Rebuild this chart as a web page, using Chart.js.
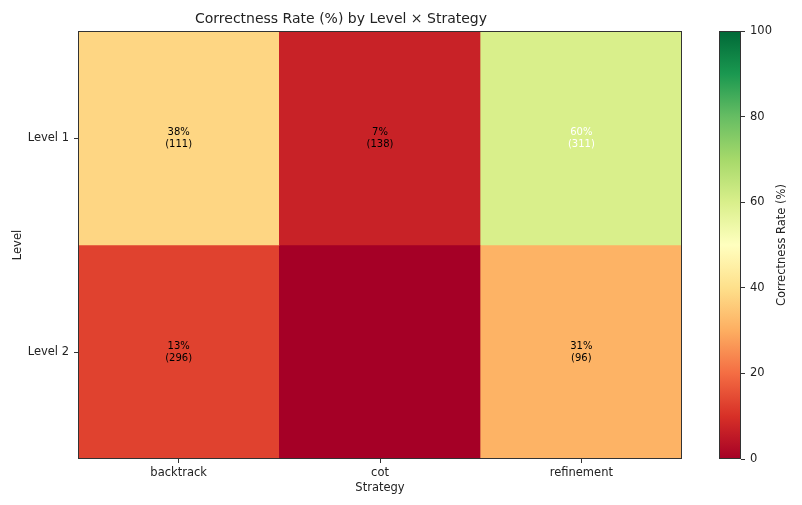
<!DOCTYPE html>
<html>
<head>
<meta charset="utf-8">
<script src="https://cdn.jsdelivr.net/npm/chart.js@4.4.1/dist/chart.umd.min.js"></script>
<style>
  html, body { margin: 0; padding: 0; background: #fff; }
  #wrap { position: relative; width: 802px; height: 505px; }
  #main { position: absolute; left: 0; top: 0; }
  #cbar { position: absolute; left: 700px; top: 0; }
</style>
</head>
<body>
<div id="wrap">
  <canvas id="main" width="700" height="505" style="width:700px;height:505px"></canvas>
  <canvas id="cbar" width="102" height="505" style="width:102px;height:505px"></canvas>
</div>
<script>
// ---- data ----
const strategies = ['backtrack', 'cot', 'refinement'];
const levels = ['Level 1', 'Level 2'];
const rateLevel1 = [38, 7, 60];
const rateLevel2 = [13, 0, 31];
const countLevel1 = [111, 138, 311];
const countLevel2 = [296, 0, 96];
const colorbarTicks = [0, 20, 40, 60, 80, 100];

const rates = [rateLevel1, rateLevel2];
const counts = [countLevel1, countLevel2];

// ---- RdYlGn colormap ----
const RdYlGn = ['#a50026','#d73027','#f46d43','#fdae61','#fee08b','#ffffbf','#d9ef8b','#a6d96a','#66bd63','#1a9850','#006837'];
function hex2rgb(h) { return [parseInt(h.slice(1,3),16), parseInt(h.slice(3,5),16), parseInt(h.slice(5,7),16)]; }
function cmap(v) {
  let t = Math.max(0, Math.min(1, v / 100)) * (RdYlGn.length - 1);
  let i = Math.min(Math.floor(t), RdYlGn.length - 2);
  let f = t - i;
  const a = hex2rgb(RdYlGn[i]), b = hex2rgb(RdYlGn[i + 1]);
  const c = a.map((x, k) => Math.round(x + (b[k] - x) * f));
  return `rgb(${c[0]},${c[1]},${c[2]})`;
}

const FONT = "'DejaVu Sans', sans-serif";
const TXT = '#222';
const FRAME = '#333';

const datasets = levels.map((lv, i) => ({
  label: lv,
  data: strategies.map(() => [levels.length - 1 - i, levels.length - i]),
  backgroundColor: rates[i].map(cmap),
  borderWidth: 0,
  grouped: false,
  barPercentage: 1.0,
  categoryPercentage: 1.0
}));

const cellText = {
  id: 'cellText',
  afterDatasetsDraw(chart) {
    const ctx = chart.ctx;
    const xs = chart.scales.x, ys = chart.scales.y;
    ctx.save();
    ctx.font = `10px ${FONT}`;
    ctx.textAlign = 'center';
    ctx.textBaseline = 'middle';
    levels.forEach((lv, i) => {
      strategies.forEach((s, j) => {
        if (!counts[i][j]) return;
        const x = xs.getPixelForValue(j);
        const y = ys.getPixelForValue(levels.length - i - 0.5);
        ctx.fillStyle = rates[i][j] > 50 ? '#ffffff' : '#000000';
        ctx.fillText(rates[i][j] + '%', x, y - 6);
        ctx.fillText('(' + counts[i][j] + ')', x, y + 6.5);
      });
    });
    // frame
    const a = chart.chartArea;
    ctx.strokeStyle = FRAME;
    ctx.lineWidth = 1;
    ctx.strokeRect(Math.round(a.left) + 0.5, Math.round(a.top) + 0.5, Math.round(a.right - a.left) - 1, Math.round(a.bottom - a.top) - 1);
    ctx.restore();
  }
};

new Chart(document.getElementById('main'), {
  type: 'bar',
  data: { labels: strategies, datasets },
  options: {
    responsive: false,
    animation: false,
    devicePixelRatio: 1,
    layout: { padding: { left: 0, right: 18, top: 0, bottom: 0 } },
    plugins: {
      legend: { display: false },
      tooltip: { enabled: false },
      title: {
        display: true,
        text: 'Correctness Rate (%) by Level × Strategy',
        color: TXT,
        font: { family: FONT, size: 14, weight: 'normal' },
        padding: { top: 10.6, bottom: 3.6 }
      }
    },
    scales: {
      x: {
        type: 'category',
        offset: true,
        grid: { display: true, drawOnChartArea: false, drawTicks: true, tickLength: 4, color: FRAME, offset: false },
        border: { display: false },
        ticks: { color: TXT, font: { family: FONT, size: 11.5 }, padding: 3, maxRotation: 0 },
        title: { display: true, text: 'Strategy', color: TXT, font: { family: FONT, size: 11.5 }, padding: { top: 0, bottom: 10 } },
        afterFit(s) { s.height = 46; }
      },
      y: {
        type: 'linear',
        min: 0,
        max: levels.length,
        grid: { display: true, drawOnChartArea: false, drawTicks: true, tickLength: 4, color: FRAME },
        border: { display: false },
        afterBuildTicks(s) { s.ticks = levels.map((lv, i) => ({ value: levels.length - i - 0.5 })); },
        ticks: {
          color: TXT, font: { family: FONT, size: 11.5 }, padding: 5,
          callback(v) { return levels[Math.round(levels.length - 0.5 - v)]; }
        },
        title: { display: true, text: 'Level', color: TXT, font: { family: FONT, size: 11.5 }, padding: { top: 11, bottom: 0 } },
        afterFit(s) { s.width = 78; }
      }
    }
  },
  plugins: [cellText]
});

// ---- colorbar ----
const cbarLabel = {
  id: 'cbarLabel',
  afterDraw(chart) {
    const ctx = chart.ctx;
    const a = chart.chartArea;
    ctx.save();
    ctx.strokeStyle = FRAME;
    ctx.lineWidth = 1;
    ctx.strokeRect(Math.round(a.left) + 0.5, Math.round(a.top) + 0.5, Math.round(a.right - a.left) - 1, Math.round(a.bottom - a.top) - 1);
    ctx.translate(82, (a.top + a.bottom) / 2);
    ctx.rotate(-Math.PI / 2);
    ctx.font = `11.5px ${FONT}`;
    ctx.fillStyle = TXT;
    ctx.textAlign = 'center';
    ctx.textBaseline = 'middle';
    ctx.fillText('Correctness Rate (%)', 0, 0);
    ctx.restore();
  }
};

new Chart(document.getElementById('cbar'), {
  type: 'bar',
  data: {
    labels: [''],
    datasets: [{
      data: [[colorbarTicks[0], colorbarTicks[colorbarTicks.length - 1]]],
      backgroundColor(c) {
        const area = c.chart.chartArea;
        if (!area) return '#fff';
        const g = c.chart.ctx.createLinearGradient(0, area.bottom, 0, area.top);
        RdYlGn.forEach((col, k) => g.addColorStop(k / (RdYlGn.length - 1), col));
        return g;
      },
      borderWidth: 0,
      barPercentage: 1.0,
      categoryPercentage: 1.0
    }]
  },
  options: {
    responsive: false,
    animation: false,
    devicePixelRatio: 1,
    layout: { padding: { left: 19, right: 0, top: 31, bottom: 46 } },
    plugins: { legend: { display: false }, tooltip: { enabled: false }, title: { display: false } },
    scales: {
      x: { display: false },
      y: {
        position: 'right',
        min: colorbarTicks[0],
        max: colorbarTicks[colorbarTicks.length - 1],
        afterBuildTicks(s) { s.ticks = colorbarTicks.map(v => ({ value: v })); },
        grid: { display: true, drawOnChartArea: false, drawTicks: true, tickLength: 4, color: FRAME },
        border: { display: false },
        ticks: { color: TXT, font: { family: FONT, size: 11.5 }, padding: 5 },
        afterFit(s) { s.width = 61; }
      }
    }
  },
  plugins: [cbarLabel]
});
</script>
</body>
</html>
